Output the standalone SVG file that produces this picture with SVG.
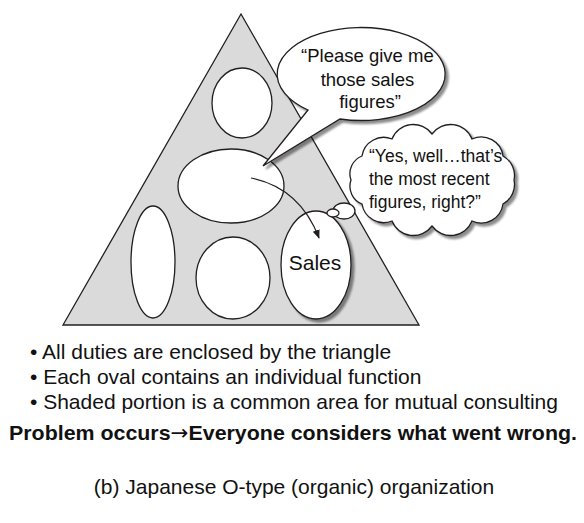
<svg xmlns="http://www.w3.org/2000/svg" width="584" height="523" viewBox="0 0 584 523">
  <style>
    .line { stroke: #231f20; stroke-width: 1.3; fill: #ffffff; }
    .txt { font-family: "Liberation Sans", Arial, sans-serif; fill: #111111; }
    .bubble { font-size: 18.5px; }
    .cloudtxt { font-size: 17.5px; }
    .note { font-size: 21px; }
  </style>
  <defs>
    <filter id="shadow" x="-20%" y="-20%" width="140%" height="150%">
      <feGaussianBlur in="SourceAlpha" stdDeviation="1.2"/>
      <feOffset dx="3" dy="3" result="off"/>
      <feComponentTransfer><feFuncA type="linear" slope="0.45"/></feComponentTransfer>
      <feMerge><feMergeNode/><feMergeNode in="SourceGraphic"/></feMerge>
    </filter>
    <marker id="head" viewBox="0 0 10 10" refX="9" refY="5" markerWidth="9" markerHeight="9" orient="auto" markerUnits="userSpaceOnUse">
      <path d="M0,1 L10,5 L0,9 Z" fill="#231f20"/>
    </marker>
  </defs>

  <!-- organization triangle: the shaded common area -->
  <g id="triangle">
    <polygon points="241,14 63,325 419,325" fill="#dadada" stroke="#231f20" stroke-width="1.3"/>
  </g>

  <!-- individual functions -->
  <g id="oval-top"><ellipse class="line" cx="242" cy="103" rx="30" ry="35"/></g>
  <g id="oval-middle"><ellipse class="line" cx="231" cy="186" rx="53" ry="37"/></g>
  <g id="oval-left"><ellipse class="line" cx="153" cy="262" rx="22" ry="56"/></g>
  <g id="oval-bottom"><ellipse class="line" cx="233" cy="278" rx="37" ry="41"/></g>
  <g id="oval-sales">
    <ellipse class="line" cx="316" cy="265" rx="35" ry="54" filter="url(#shadow)"/>
    <text class="txt note" x="315" y="270" text-anchor="middle">Sales</text>
  </g>

  <!-- request flowing to sales -->
  <g id="connectors">
    <path d="M251,178 Q300,188 319,238" fill="none" stroke="#231f20" stroke-width="1.2" marker-end="url(#head)"/>
  </g>

  <!-- speech balloon -->
  <g id="speech">
    <path class="line" filter="url(#shadow)" d="M308,110 L263,166 L340,119 A84,46.5 0 1 0 308,110 Z"/>
    <text class="txt bubble" text-anchor="middle">
      <tspan x="370" y="62">“Please give me</tspan>
      <tspan x="370" y="86">those sales</tspan>
      <tspan x="370" y="108">figures”</tspan>
    </text>
  </g>

  <!-- thought cloud -->
  <g id="thought">
    <path class="line" filter="url(#shadow)" d="M514,180 A22,22 0 0 1 503,204 A22,22 0 0 1 472,221 A23,23 0 0 1 432,226 A23,23 0 0 1 392,221 A22,22 0 0 1 362,204 A19,19 0 0 1 351,180 A19,19 0 0 1 362,156 A22,22 0 0 1 392,139 A23,23 0 0 1 432,134 A23,23 0 0 1 472,139 A22,22 0 0 1 503,156 A22,22 0 0 1 514,180 Z"/>
    <ellipse class="line" cx="344" cy="211" rx="11" ry="8"/>
    <ellipse class="line" cx="333" cy="213" rx="6" ry="4"/>
    <text class="txt cloudtxt">
      <tspan x="369" y="162">“Yes, well…that’s</tspan>
      <tspan x="369" y="185">the most recent</tspan>
      <tspan x="369" y="208">figures, right?”</tspan>
    </text>
  </g>

  <!-- notes -->
  <g id="notes">
    <text class="txt note" x="30" y="359">• All duties are enclosed by the triangle</text>
    <text class="txt note" x="30" y="384">• Each oval contains an individual function</text>
    <text class="txt note" x="30" y="409">• Shaded portion is a common area for mutual consulting</text>
    <text class="txt note" x="9" y="440" font-weight="bold" textLength="568" lengthAdjust="spacingAndGlyphs">Problem occurs<tspan font-family="'DejaVu Sans', sans-serif" font-weight="normal">→</tspan>Everyone considers what went wrong.</text>
    <text class="txt note" x="294" y="494" text-anchor="middle">(b) Japanese O-type (organic) organization</text>
  </g>
</svg>
